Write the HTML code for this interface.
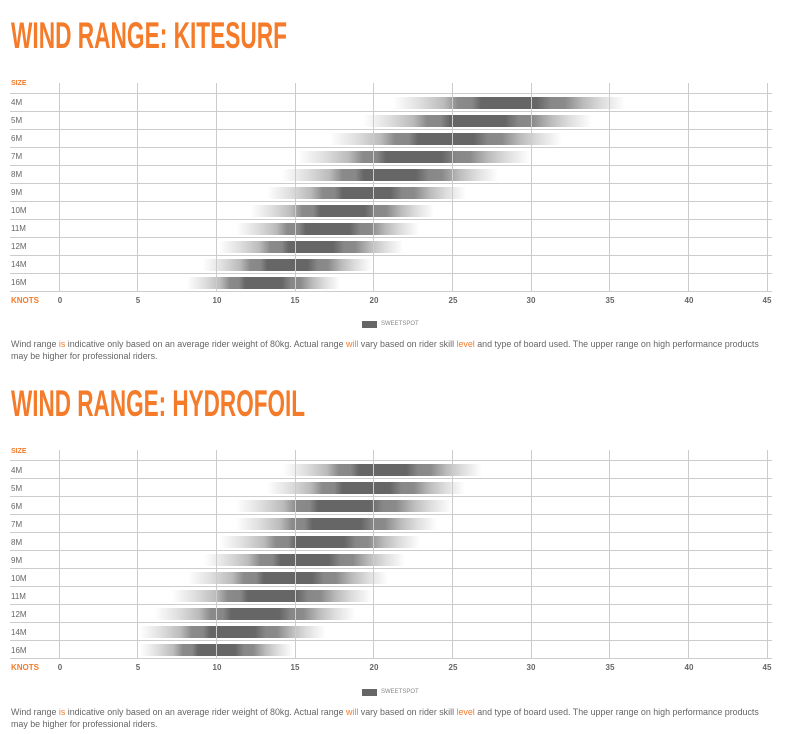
<!DOCTYPE html>
<html><head><meta charset="utf-8"><style>
body{margin:0;width:801px;height:734px;background:#fff;position:relative;overflow:hidden;font-family:"Liberation Sans",sans-serif}
.a{position:absolute}
.lbl{position:absolute;font-size:8px;color:#666;left:11px}
.or{color:#f47b2a;font-weight:bold}
.tk{position:absolute;font-size:8px;color:#666;font-weight:bold;transform:translateX(-50%)}
.p{position:absolute;left:11px;width:780px;font-size:8.9px;line-height:11.5px;color:#666;white-space:nowrap}
.p span{color:#f47b2a}
</style></head><body>
<svg class="a" style="left:0;top:0" width="801" height="60"><text x="11" y="48" font-family="Liberation Sans" font-weight="bold" font-size="37" fill="#f47b2a" textLength="276" lengthAdjust="spacingAndGlyphs">WIND RANGE: KITESURF</text></svg>
<svg class="a" style="left:0;top:368px" width="801" height="60"><text x="11" y="48" font-family="Liberation Sans" font-weight="bold" font-size="37" fill="#f47b2a" textLength="294" lengthAdjust="spacingAndGlyphs">WIND RANGE: HYDROFOIL</text></svg>
<div id="c1"></div><div id="c2"></div>
<div class="lbl or" style="top:80px;font-size:7px">SIZE</div>
<div class="lbl" style="top:98px">4M</div><div class="lbl" style="top:116px">5M</div><div class="lbl" style="top:134px">6M</div><div class="lbl" style="top:152px">7M</div><div class="lbl" style="top:170px">8M</div><div class="lbl" style="top:188px">9M</div><div class="lbl" style="top:206px">10M</div><div class="lbl" style="top:224px">11M</div><div class="lbl" style="top:242px">12M</div><div class="lbl" style="top:260px">14M</div><div class="lbl" style="top:278px">16M</div>
<div class="lbl or" style="top:296px">KNOTS</div>
<div class="tk" style="left:60px;top:296px">0</div><div class="tk" style="left:138px;top:296px">5</div><div class="tk" style="left:217px;top:296px">10</div><div class="tk" style="left:295px;top:296px">15</div><div class="tk" style="left:374px;top:296px">20</div><div class="tk" style="left:453px;top:296px">25</div><div class="tk" style="left:531px;top:296px">30</div><div class="tk" style="left:610px;top:296px">35</div><div class="tk" style="left:689px;top:296px">40</div><div class="tk" style="left:767px;top:296px">45</div>
<div class="a" style="left:362px;top:321px;width:15px;height:7px;background:#666"></div><div class="a" style="left:381px;top:321px;font-size:6px;color:#888">SWEETSPOT</div>
<div class="p" style="top:339px">Wind range <span>is</span> indicative only based on an average rider weight of 80kg. Actual range <span>will</span> vary based on rider skill <span>level</span> and type of board used. The upper range on high performance products<br>may be higher for professional riders.</div>

<div class="lbl or" style="top:448px;font-size:7px">SIZE</div>
<div class="lbl" style="top:466px">4M</div><div class="lbl" style="top:484px">5M</div><div class="lbl" style="top:502px">6M</div><div class="lbl" style="top:520px">7M</div><div class="lbl" style="top:538px">8M</div><div class="lbl" style="top:556px">9M</div><div class="lbl" style="top:574px">10M</div><div class="lbl" style="top:592px">11M</div><div class="lbl" style="top:610px">12M</div><div class="lbl" style="top:628px">14M</div><div class="lbl" style="top:646px">16M</div>
<div class="lbl or" style="top:663px">KNOTS</div>
<div class="tk" style="left:60px;top:663px">0</div><div class="tk" style="left:138px;top:663px">5</div><div class="tk" style="left:217px;top:663px">10</div><div class="tk" style="left:295px;top:663px">15</div><div class="tk" style="left:374px;top:663px">20</div><div class="tk" style="left:453px;top:663px">25</div><div class="tk" style="left:531px;top:663px">30</div><div class="tk" style="left:610px;top:663px">35</div><div class="tk" style="left:689px;top:663px">40</div><div class="tk" style="left:767px;top:663px">45</div>
<div class="a" style="left:362px;top:689px;width:15px;height:7px;background:#666"></div><div class="a" style="left:381px;top:689px;font-size:6px;color:#888">SWEETSPOT</div>
<div class="p" style="top:707px">Wind range <span>is</span> indicative only based on an average rider weight of 80kg. Actual range <span>will</span> vary based on rider skill <span>level</span> and type of board used. The upper range on high performance products<br>may be higher for professional riders.</div>
<script>
function chart(id,top,bars){
 var h='',xs=[59.5,137.5,216.5,295,373.5,452.5,531,609.5,688,767];
 bars.forEach(function(b,i){var y=top+i*18+4;
  h+='<div class="a" style="left:'+b[0]+'px;top:'+y+'px;width:'+(b[1]-b[0])+'px;height:12px;background:linear-gradient(90deg,rgba(200,200,200,0) 0%,#ddd 12%,#bbb 22%,#8a8a8a 28%,#888 34%,#666 38%,#666 62%,#888 68%,#8a8a8a 74%,#bbb 82%,#ddd 90%,rgba(220,220,220,0) 100%)"></div>';});
 for(var i=0;i<12;i++){var y=top+i*18;h+='<div class="a" style="left:10px;top:'+y+'px;width:762px;height:1px;background:#ccc"></div>';}
 xs.forEach(function(x){h+='<div class="a" style="left:'+Math.round(x-0.5)+'px;top:'+(top-10)+'px;width:1px;height:208px;background:#ccc"></div>';});
 document.getElementById(id).innerHTML=h;}
chart('c1',93,[[393,625],[363,592],[330,562],[298,530],[282,498],[267,466],[251,434],[236,419],[219,403],[203,372],[187,340]]);
chart('c2',460,[[283,482],[267,465],[236,452],[236,437],[220,420],[204,405],[188,388],[172,372],[155,355],[140,325],[140,293]]);
</script>
</body></html>
